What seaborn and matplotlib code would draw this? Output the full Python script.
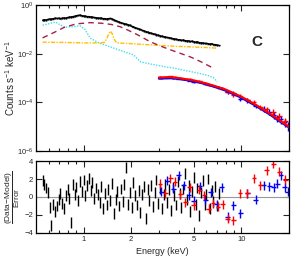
import numpy as np
import seaborn as sns
import matplotlib.pyplot as plt
from matplotlib.ticker import FixedLocator, NullFormatter, NullLocator

# black spectrum (0.5-7 keV)
blk_e = [0.550, 0.564, 0.579, 0.595, 0.610, 0.626, 0.643, 0.660, 0.677, 0.695,
         0.713, 0.732, 0.751, 0.771, 0.791, 0.812, 0.833, 0.855, 0.878, 0.901,
         0.924, 0.949, 0.974, 0.999, 1.025, 1.052, 1.080, 1.108, 1.138, 1.167,
         1.198, 1.230, 1.262, 1.295, 1.329, 1.364, 1.400, 1.437, 1.475, 1.514,
         1.553, 1.594, 1.636, 1.679, 1.723, 1.768, 1.815, 1.862, 1.911, 1.962,
         2.013, 2.066, 2.121, 2.176, 2.234, 2.292, 2.353, 2.414, 2.478, 2.543,
         2.610, 2.679, 2.749, 2.821, 2.896, 2.972, 3.050, 3.130, 3.212, 3.297,
         3.384, 3.473, 3.564, 3.658, 3.754, 3.853, 3.954, 4.058, 4.165, 4.274,
         4.387, 4.502, 4.620, 4.742, 4.866, 4.994, 5.126, 5.260, 5.399, 5.541,
         5.686, 5.836, 5.989, 6.147, 6.308, 6.474, 6.644, 6.819, 6.998, 7.182]
blk_cts = [0.24, 0.25, 0.245, 0.26, 0.27, 0.265, 0.28, 0.29, 0.285, 0.29,
           0.28, 0.29, 0.30, 0.295, 0.31, 0.32, 0.33, 0.34, 0.35, 0.37,
           0.38, 0.39, 0.37, 0.36, 0.35, 0.34, 0.34, 0.33, 0.32, 0.31,
           0.30, 0.30, 0.29, 0.29, 0.28, 0.28, 0.27, 0.28, 0.285, 0.27,
           0.25, 0.23, 0.215, 0.20, 0.19, 0.18, 0.17, 0.165, 0.155, 0.15,
           0.135, 0.13, 0.12, 0.112, 0.105, 0.10, 0.092, 0.088, 0.082, 0.078,
           0.074, 0.070, 0.067, 0.064, 0.060, 0.058, 0.055, 0.053, 0.051, 0.049,
           0.047, 0.046, 0.044, 0.042, 0.041, 0.040, 0.038, 0.038, 0.036, 0.037,
           0.035, 0.034, 0.034, 0.032, 0.033, 0.031, 0.030, 0.031, 0.029, 0.028,
           0.028, 0.027, 0.027, 0.026, 0.025, 0.026, 0.024, 0.024, 0.023, 0.022]
blk_res = [1.8, 1.4, 1.0, 0.5, -1.2, -3.2, -0.8, -1.6, -1.0, -0.3,
           0.4, -0.7, -1.3, 0.2, 0.8, -0.2, -2.8, 1.4, 0.3, 1.1,
           -0.4, 1.7, 0.6, 1.9, 0.2, 1.3, 2.1, 0.7, 1.6, -0.2,
           1.0, 0.3, -0.6, 1.2, -1.3, 0.4, -0.9, 0.8, -0.4, 1.5,
           -1.8, -0.3, 0.6, -1.0, 0.9, -0.5, 1.4, 3.3, -0.8, 0.5,
           -1.2, 1.6, 0.2, -0.9, 0.7, -1.7, 0.3, 1.2, -2.4, 0.8,
           -0.4, 1.3, -1.1, 0.5, 1.9, -0.7, 0.9, -1.3, 0.3, 1.4,
           -0.6, 0.8, -1.5, 1.1, 0.2, -0.9, 1.7, 0.4, -1.2, 0.9,
           2.6, -0.3, 1.3, -1.6, 0.6, 2.2, -0.8, 1.0, -2.1, 0.5,
           1.8, -0.9, 0.3, 2.0, -1.3, 0.7, -0.5, 1.2, -1.0, 0.4]

# red and blue spectra (3-20 keV)
red_e = [3.05, 3.3, 3.55, 3.8, 4.1, 4.4, 4.7, 5.0, 5.4, 5.8, 6.2, 6.6, 7.1, 7.6, 8.2, 8.9,
         9.8, 10.9, 12.0, 13.2, 14.5, 15.9, 17.4, 19.0]
red_cts = [1.12e-3, 1.1e-3, 1.2e-3, 1.13e-3, 9.9e-4, 9.0e-4, 9.0e-4, 7.7e-4, 7.4e-4, 6.4e-4,
           5.3e-4, 4.9e-4, 4.1e-4, 3.6e-4, 2.6e-4, 2.0e-4, 1.85e-4, 1.3e-4, 1.05e-4, 6.5e-5,
           5.2e-5, 4.0e-5, 2.7e-5, 1.7e-5]
red_rel = [0.05, 0.05, 0.06, 0.06, 0.07, 0.07, 0.08, 0.08, 0.09, 0.09, 0.10, 0.10, 0.12, 0.12,
           0.14, 0.15, 0.17, 0.19, 0.21, 0.24, 0.27, 0.30, 0.33, 0.36]
red_res = [1.5, 0.4, 2.1, 1.7, 0.3, -0.6, 1.1, -0.9, 0.8, 0.2, -1.3, -0.7, -1.1, -0.8, -2.4,
           -2.6, 0.4, 0.4, 2.1, 1.3, 3.0, 3.7, 2.8, 1.9]

blu_e = [3.1, 3.4, 3.7, 4.0, 4.3, 4.65, 5.0, 5.45, 5.9, 6.4, 6.95, 7.5, 8.2, 8.9, 9.85,
         10.9, 12.3, 13.8, 15.0, 16.0, 16.9, 17.8, 18.8, 19.6]
blu_cts = [9.8e-4, 1.05e-3, 9.7e-4, 9.6e-4, 8.8e-4, 7.9e-4, 7.2e-4, 6.7e-4, 5.8e-4, 5.3e-4,
           4.3e-4, 3.9e-4, 2.6e-4, 2.4e-4, 1.35e-4, 1.25e-4, 7.3e-5, 5.5e-5, 4.1e-5, 3.0e-5,
           2.4e-5, 2.0e-5, 1.5e-5, 1.1e-5]
blu_rel = [0.06, 0.06, 0.07, 0.07, 0.08, 0.08, 0.09, 0.10, 0.10, 0.11, 0.12, 0.13, 0.15, 0.17,
           0.19, 0.21, 0.23, 0.26, 0.28, 0.30, 0.32, 0.34, 0.36, 0.38]
blu_res = [0.6, 1.8, 0.9, 2.4, 1.3, 0.2, -0.4, 1.2, -0.3, 0.5, -0.8, 1.1, -2.2, -0.9, -1.8,
           0.4, -0.3, 1.3, 1.2, 1.1, 1.5, 2.4, 1.1, 0.6]

# model components
hard_e = [3.0, 3.5, 4.0, 5.0, 6.0, 7.0, 8.0, 10.0, 12.0, 15.0, 18.0, 20.0]
red_model = [1.05e-3, 1.1e-3, 1.0e-3, 8.0e-4, 6.0e-4, 4.4e-4, 3.3e-4, 1.7e-4, 8.8e-5, 3.6e-5,
             1.6e-5, 1.0e-5]
blu_model = [9.5e-4, 1.0e-3, 9.3e-4, 7.4e-4, 5.6e-4, 4.1e-4, 3.0e-4, 1.55e-4, 8.0e-5, 3.3e-5,
             1.45e-5, 9.5e-6]

cyan_e = [0.55, 0.6, 0.665, 0.75, 0.85, 0.95, 1.02, 1.1, 1.25, 1.48, 1.75, 2.07, 2.3, 2.65,
          3.2, 3.7, 4.5, 5.3, 6.1, 6.7, 7.0]
cyan_m = [0.15, 0.17, 0.2, 0.125, 0.13, 0.14, 0.1, 0.044, 0.028, 0.019, 0.013, 0.009, 0.0046,
          0.0038, 0.003, 0.0026, 0.002, 0.0016, 0.0013, 0.001, 0.0007]
yel_e = [0.55, 0.8, 1.0, 1.2, 1.35, 1.40, 1.44, 1.48, 1.52, 1.56, 1.62, 2.0, 3.0, 4.0, 5.0,
         6.0, 7.0]
yel_m = [0.030, 0.029, 0.028, 0.028, 0.029, 0.040, 0.065, 0.085, 0.065, 0.040, 0.028, 0.026,
         0.022, 0.020, 0.019, 0.018, 0.017]
dred_e = [0.55, 0.65, 0.75, 0.9, 1.1, 1.3, 1.5, 1.7, 1.9, 2.2, 2.6, 3.0, 3.5, 4.0, 4.75, 5.5, 6.6]
dred_m = [0.045, 0.075, 0.12, 0.17, 0.19, 0.18, 0.16, 0.13, 0.095, 0.06, 0.033, 0.022, 0.015,
          0.011, 0.0074, 0.0048, 0.0026]

sns.set_style("ticks")
plt.rcParams['font.family'] = ['Liberation Sans', 'DejaVu Sans']
plt.rcParams['mathtext.fontset'] = 'custom'
plt.rcParams['mathtext.rm'] = 'Liberation Sans'
plt.rcParams['mathtext.it'] = 'Liberation Sans'

fig = plt.figure(figsize=(2.91, 2.56), dpi=100)
ax = fig.add_axes([0.124, 0.41, 0.869, 0.57])
ax2 = fig.add_axes([0.124, 0.09, 0.869, 0.281])


def xbins(e, frac=0.035):
    return np.array(e) * frac


# top panel
sns.lineplot(x=blk_e, y=blk_cts, ax=ax, color='black', lw=0.9, sort=False, estimator=None)
ax.errorbar(blk_e, blk_cts, xerr=xbins(blk_e, 0.013), yerr=np.array(blk_cts) * 0.07,
            fmt='none', ecolor='black', elinewidth=1.0)
sns.lineplot(x=cyan_e, y=cyan_m, ax=ax, color='#40e0f0', lw=1.0, ls=(0, (1, 1)),
             sort=False, estimator=None)
sns.lineplot(x=yel_e, y=yel_m, ax=ax, color='#ffc000', lw=1.0, ls=(0, (3, 1, 1, 1)),
             sort=False, estimator=None)
sns.lineplot(x=dred_e, y=dred_m, ax=ax, color='#a52045', lw=1.0, ls=(0, (4, 3)),
             sort=False, estimator=None)
ax.errorbar(blu_e, blu_cts, xerr=xbins(blu_e), yerr=np.array(blu_cts) * np.array(blu_rel),
            fmt='none', ecolor='blue', elinewidth=1.0)
ax.errorbar(red_e, red_cts, xerr=xbins(red_e), yerr=np.array(red_cts) * np.array(red_rel),
            fmt='none', ecolor='red', elinewidth=1.0)
sns.lineplot(x=hard_e, y=blu_model, ax=ax, color='blue', lw=1.6, sort=False, estimator=None)
sns.lineplot(x=hard_e, y=red_model, ax=ax, color='red', lw=1.6, sort=False, estimator=None)

ax.set_xscale('log')
ax.set_yscale('log')
ax.set_xlim(0.5, 20)
ax.set_ylim(1e-6, 1)
ax.yaxis.set_major_locator(FixedLocator([1e-6, 1e-4, 1e-2, 1]))
ax.yaxis.set_minor_locator(NullLocator())
ax.set_ylabel('Counts s$^{-1}$ keV$^{-1}$', fontsize=7)
ax.yaxis.set_label_coords(-0.077, 0.5)
ax.text(0.875, 0.75, 'C', transform=ax.transAxes, fontsize=11, fontweight='bold',
        ha='center', va='center')
ax.xaxis.set_major_formatter(NullFormatter())
ax.xaxis.set_minor_formatter(NullFormatter())

# residual panel
ax2.axhline(0, color='#999999', lw=0.8)
ax2.errorbar(blk_e, blk_res, yerr=0.6, fmt='none', ecolor='black', elinewidth=1.0)
ax2.errorbar(blu_e, blu_res, xerr=xbins(blu_e), yerr=0.5, fmt='none', ecolor='blue',
             elinewidth=1.0)
ax2.errorbar(red_e, red_res, xerr=xbins(red_e), yerr=0.5, fmt='none', ecolor='red',
             elinewidth=1.0)
ax2.set_xscale('log')
ax2.set_xlim(0.5, 20)
ax2.set_ylim(-4, 4)
ax2.set_yticks([-4, -2, 0, 2, 4])
ax2.xaxis.set_major_locator(FixedLocator([1, 2, 5, 10]))
ax2.set_xticklabels(['1', '2', '5', '10'])
ax2.xaxis.set_minor_formatter(NullFormatter())
ax2.set_xlabel('Energy (keV)', fontsize=6.5, labelpad=3)
ax2.set_ylabel(r'$\dfrac{\mathrm{(Data\!-\!Model)}}{\mathrm{Error}}$', fontsize=6)
ax2.yaxis.set_label_coords(-0.056, 0.5)

for a in (ax, ax2):
    a.xaxis.set_minor_locator(FixedLocator([0.6, 0.7, 0.8, 0.9, 3, 4, 6, 7, 8, 9, 20]))
    a.tick_params(which='both', direction='in', top=True, right=True, labelsize=5.5,
                  width=0.8, pad=2)
    a.tick_params(which='major', length=4)
    a.tick_params(which='minor', length=2.5)
    for s in a.spines.values():
        s.set_linewidth(0.9)
        s.set_color('black')

fig.savefig('out.png', dpi=100)
